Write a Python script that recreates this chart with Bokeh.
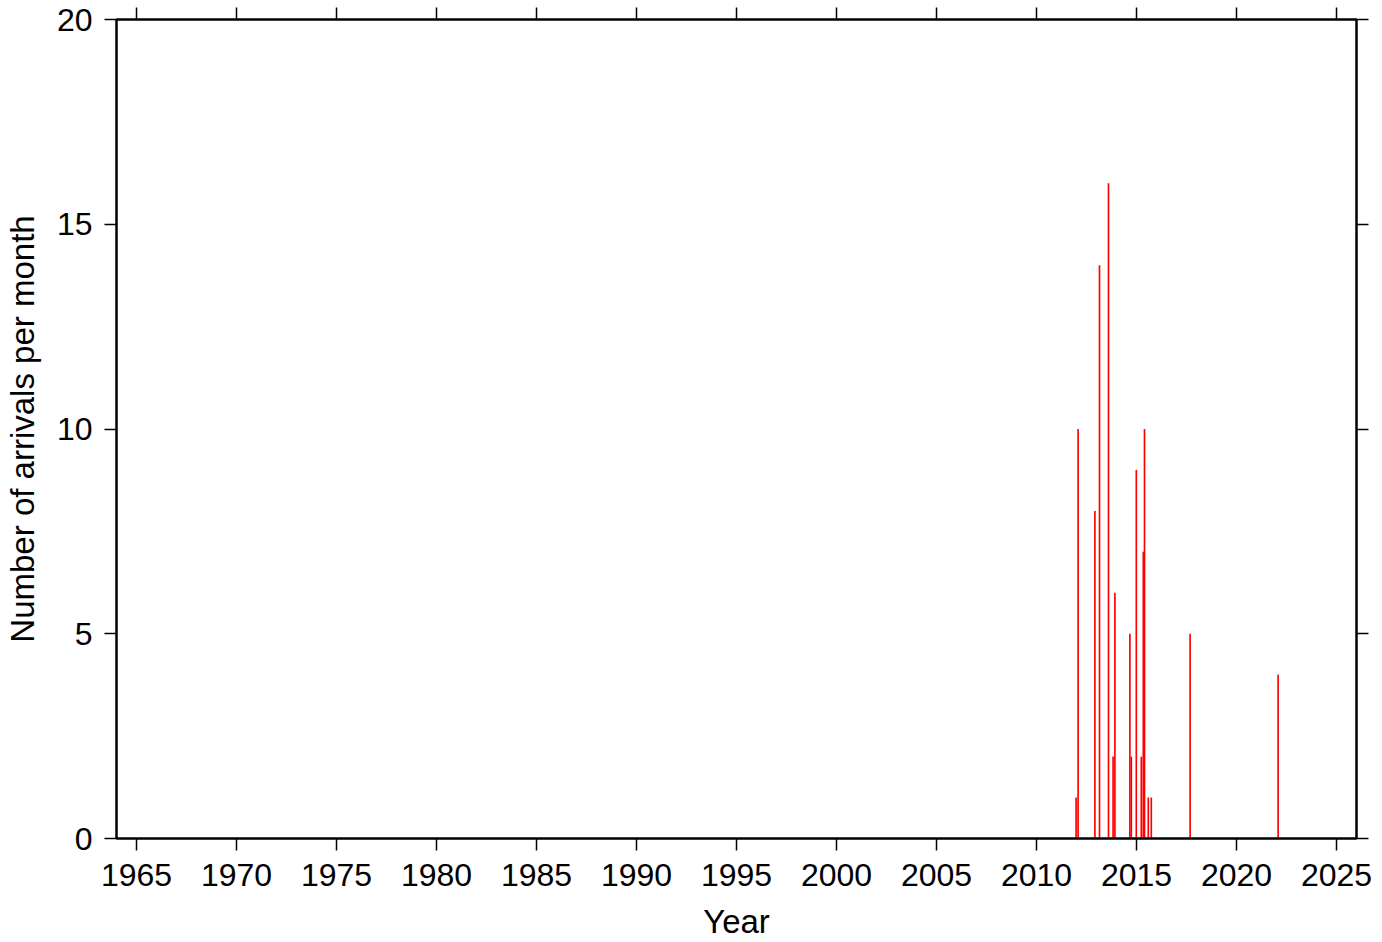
from bokeh.plotting import figure
from bokeh.models import Range1d, LinearAxis, FixedTicker, ColumnDataSource
from bokeh.embed import file_html
from bokeh.resources import INLINE

# Data (decimal year of the month, arrivals in that month)
event_years = [2011.98, 2012.08, 2012.92, 2013.15, 2013.60, 2013.83, 2013.92,
               2014.67, 2014.74, 2014.99, 2015.24, 2015.34, 2015.40, 2015.59,
               2015.74, 2017.68, 2022.08]
arrivals = [1, 10, 8, 14, 16, 2, 6, 5, 2, 9, 2, 7, 10, 1, 1, 5, 4]
x_ticks = [1965, 1970, 1975, 1980, 1985, 1990, 1995, 2000, 2005, 2010, 2015, 2020, 2025]
y_ticks = [0, 5, 10, 15, 20]

FONT = "Liberation Sans"
TICK_FS = "32px"
LABEL_FS = "33px"

p = figure(width=1380, height=942, output_backend="svg", toolbar_location=None,
           x_range=Range1d(1964, 2026), y_range=Range1d(0, 20),
           min_border_left=116, min_border_right=24, min_border_top=19, min_border_bottom=100)
p.xgrid.visible = False
p.ygrid.visible = False
p.outline_line_color = "black"
p.outline_line_width = 2

src = ColumnDataSource(dict(x=event_years, top=arrivals))
p.vbar(x="x", top="top", bottom=0, width=1/12, source=src, fill_color="#ff0000", line_color=None)

def style(ax, labels=True):
    ax.axis_line_color = "black"
    ax.axis_line_width = 2
    ax.major_tick_line_color = "black"
    ax.major_tick_line_width = 1.5
    ax.major_tick_out = 12
    ax.major_tick_in = 0
    ax.minor_tick_line_color = None
    ax.major_label_text_font = FONT
    ax.major_label_text_font_size = TICK_FS
    ax.major_label_text_color = "black"
    ax.axis_label_text_font = FONT
    ax.axis_label_text_font_size = LABEL_FS
    ax.axis_label_text_font_style = "normal"
    ax.axis_label_text_color = "black"
    if not labels:
        ax.major_label_text_font_size = "0px"
        ax.major_label_text_alpha = 0
        ax.axis_label_standoff = 0

xa = p.xaxis[0]
xa.ticker = FixedTicker(ticks=x_ticks)
style(xa)
xa.axis_label = "Year"
xa.major_label_standoff = 13
xa.axis_label_standoff = 14

ya = p.yaxis[0]
ya.ticker = FixedTicker(ticks=y_ticks)
style(ya)
ya.axis_label = "Number of arrivals per month"
ya.major_label_standoff = 12
ya.axis_label_standoff = 13

top = LinearAxis(ticker=FixedTicker(ticks=x_ticks))
style(top, labels=False)
top.major_label_standoff = 0
p.add_layout(top, "above")

right = LinearAxis(ticker=FixedTicker(ticks=y_ticks))
style(right, labels=False)
right.major_label_standoff = 0
p.add_layout(right, "right")

open("out.html", "w").write(file_html(p, INLINE))
